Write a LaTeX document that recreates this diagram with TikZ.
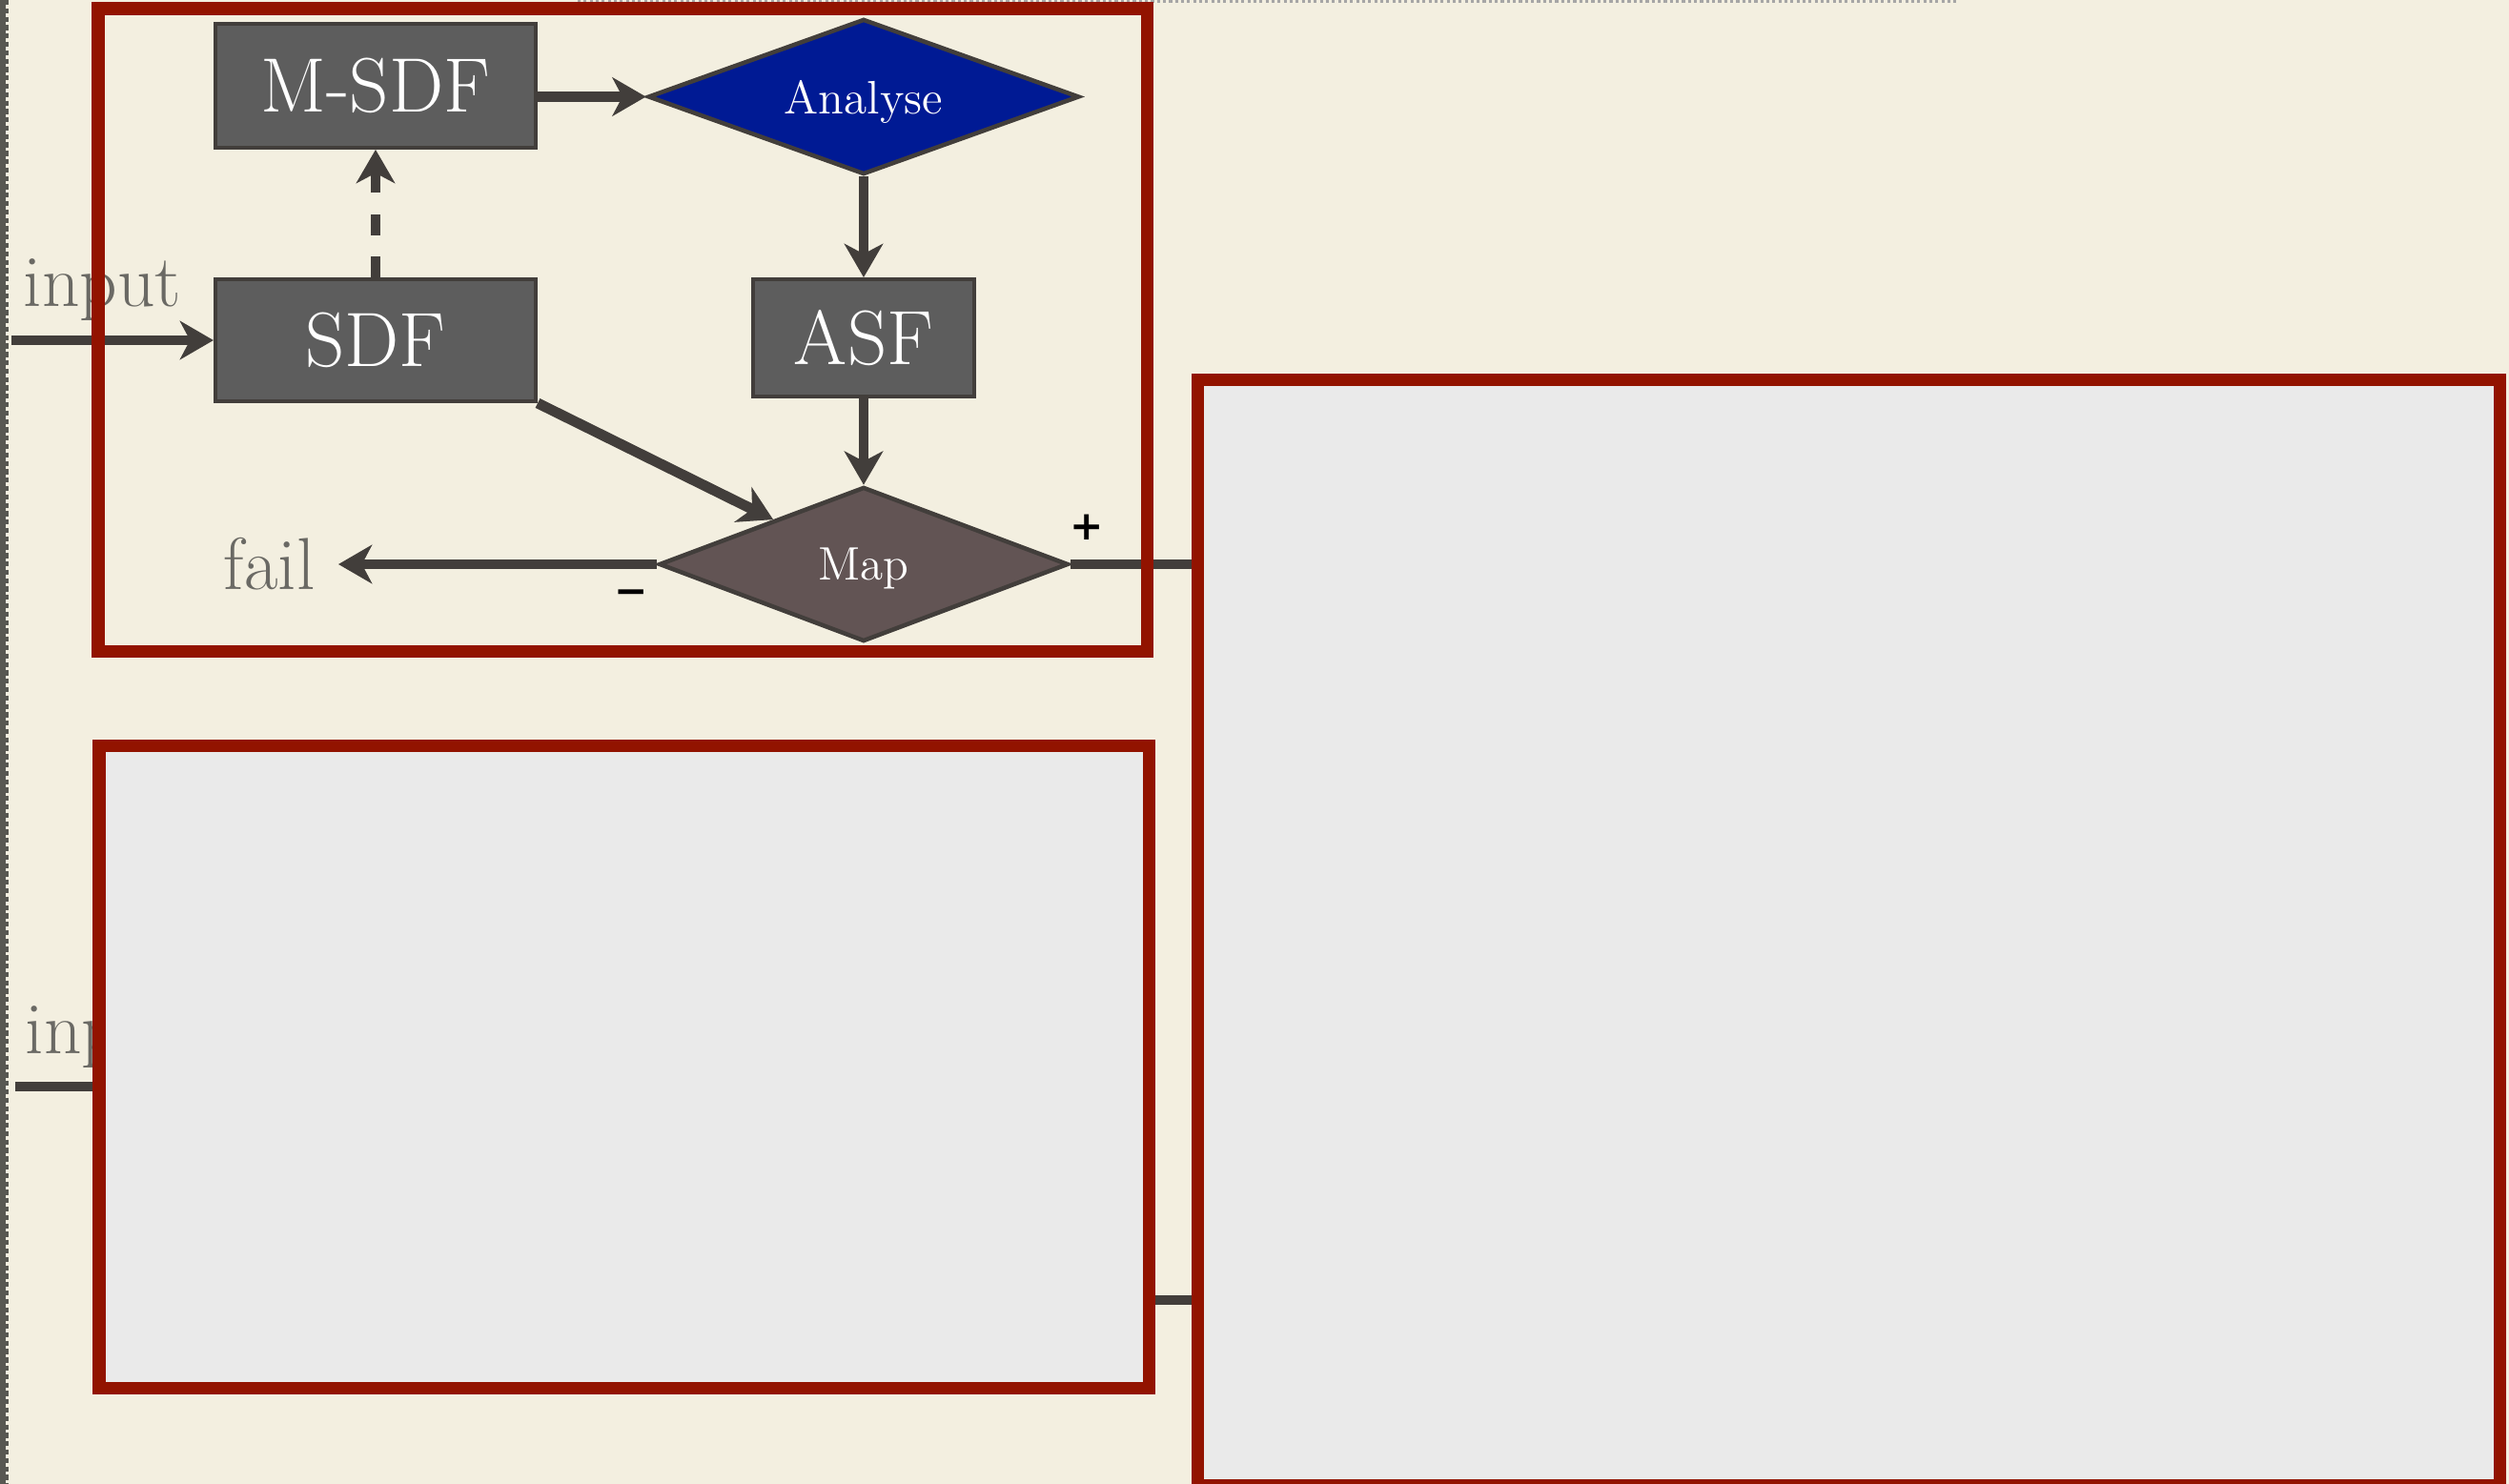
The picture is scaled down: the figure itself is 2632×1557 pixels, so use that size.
\documentclass[tikz,border=0pt]{standalone}
\usepackage{fontspec}
\newfontfamily\signfont{DejaVu Sans}
\usetikzlibrary{arrows.meta,shapes.geometric}

\definecolor{paper}{RGB}{243,239,224}
\definecolor{framered}{RGB}{146,19,0}
\definecolor{boxgrey}{RGB}{93,93,93}
\definecolor{inkgrey}{RGB}{66,62,59}
\definecolor{analyseblue}{RGB}{0,26,148}
\definecolor{mapbrown}{RGB}{98,84,84}
\definecolor{panelgrey}{RGB}{234,234,234}
\definecolor{labelgrey}{RGB}{106,105,100}
\definecolor{edgegrey}{RGB}{88,88,82}

\tikzset{
	flowbox/.style={draw=inkgrey, line width=1.1pt, fill=boxgrey, text=white, inner sep=0pt, font=\fontsize{23}{27}\selectfont},
	decision/.style={diamond, draw=inkgrey, line width=1.3pt, text=white, inner sep=0pt, text depth=0pt, font=\fontsize{14}{16}\selectfont},
	flow/.style={draw=inkgrey, line width=3.1pt, -{Stealth[length=10pt,width=11.5pt,inset=3pt]}},
	plain/.style={draw=inkgrey, line width=3.1pt},
	panel/.style={draw=framered, line width=3.7pt},
	sidelabel/.style={text=labelgrey, inner sep=0pt, font=\fontsize{22}{26}\selectfont},
	sign/.style={inner sep=0pt, font=\signfont\bfseries\fontsize{12}{14}\selectfont}
}

\begin{document}
\begin{tikzpicture}[x=0.01cm, y=-0.01cm]
			%%%%% START %%%%%
			
			\fill[paper] (0,0) rectangle (2632,1557);
			\useasboundingbox (0,0) rectangle (2632,1557);
			
			% page edges
			\draw[edgegrey, line width=1.6pt] (3,0) -- (3,1557);
			\draw[edgegrey, line width=1pt, dash pattern=on 1.5pt off 1pt] (7,0) -- (7,1557);
			\draw[gray!70, line width=0.9pt, dash pattern=on 0.9pt off 0.9pt] (606,1.5) -- (2052,1.5);
			
			% first stage
			\node[flowbox, minimum width=3.36cm, minimum height=1.30cm] (msdf) at (394,90) {M-SDF};
			\node[flowbox, minimum width=3.36cm, minimum height=1.28cm] (sdf) at (394,357) {SDF};
			\node[flowbox, minimum width=2.32cm, minimum height=1.23cm] (asf) at (906,354.5) {ASF};
			\node[decision, fill=analyseblue, shape aspect=2.77, minimum width=4.52cm, minimum height=1.63cm] (analyse) at (906,101.5) {Analyse};
			\node[decision, fill=mapbrown, shape aspect=2.65, minimum width=4.29cm, minimum height=1.62cm] (map) at (906,592) {Map};
			
			\node[sidelabel, anchor=base west] (inputlbl) at (24,321) {input};
			\node[sidelabel, anchor=base east, inner xsep=6.8pt] (fail) at (355,618) {fail};
			\coordinate (inputstart) at (12,357);
			
			\draw[flow] (inputstart) -- (sdf.west);
			\draw[flow, dash pattern=on 6.3pt off 6.3pt] (sdf.north) -- (msdf.south);
			\draw[flow] (msdf.east |- analyse.west) -- (analyse.west);
			\draw[flow] (analyse.south) -- (asf.north);
			\draw[flow] (asf.south) -- (map.north);
			\draw[flow] (sdf.south east) -- (map);
			\draw[flow] (map.west) -- (fail.east |- map.west);
			
			\coordinate (mapout) at (1257,592);
			\draw[plain] (map.east) -- (mapout);
			\node[sign] (plus) at (1140,553) {+};
			\node[sign] (minus) at (662,627) {−};
			
			% second stage, covered
			\node[sidelabel, anchor=base west] (inputlbl2) at (26,1105) {input};
			\coordinate (inputstart2) at (16,1140);
			\coordinate (inputend2) at (200,1140);
			\draw[plain] (inputstart2) -- (inputend2);
			\coordinate (linkl) at (1205,1364);
			\coordinate (linkr) at (1257,1364);
			\draw[plain] (linkl) -- (linkr);
			
			% panels
			\draw[panel] (103,9) rectangle (1203.5,683.5);
			\draw[panel, fill=panelgrey] (104,782) rectangle (1205.5,1456.5);
			\draw[panel, fill=panelgrey] (1256.5,398.5) rectangle (2622.5,1558.5);
			
			%%%%% END %%%%%
\end{tikzpicture}
\end{document}
